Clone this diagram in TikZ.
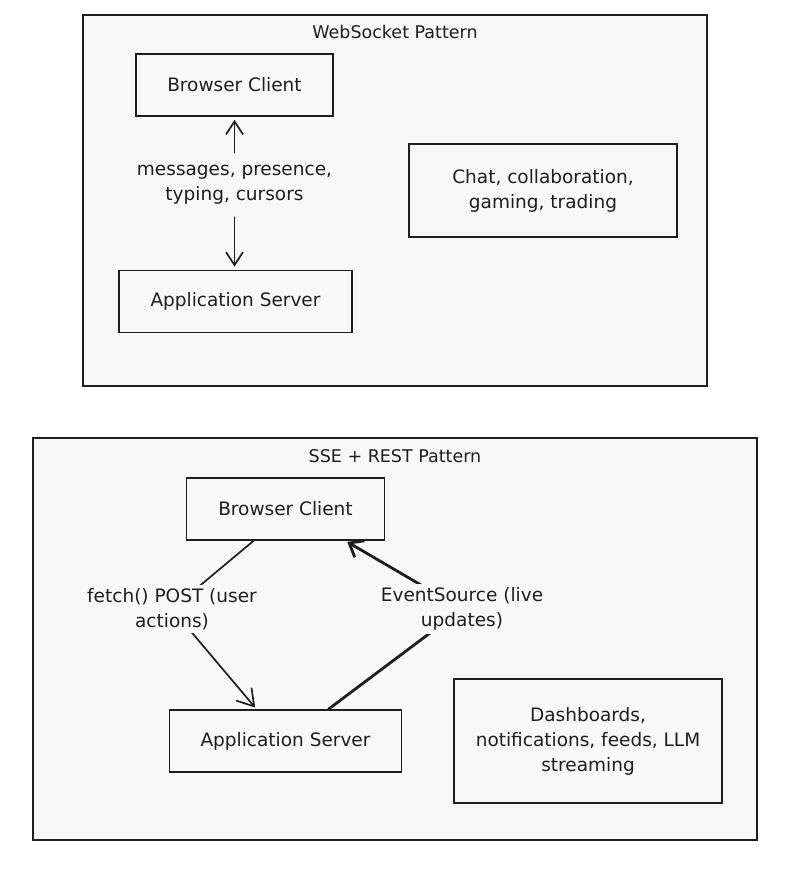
\documentclass[tikz,border=0pt]{standalone}
\usepackage{fontspec}
\setmainfont{DejaVu Sans}
\usetikzlibrary{arrows.meta,calc}
\definecolor{ink}{HTML}{1E1E1E}
\definecolor{framebg}{HTML}{F8F8F8}
\pgfdeclarelayer{bglayer}
\pgfdeclarelayer{midlayer}
\pgfsetlayers{bglayer,midlayer,main}
\begin{document}
\begin{tikzpicture}[x=1pt,y=-1pt,
  frame/.style={draw=ink,line width=1.6pt,fill=framebg,inner sep=0pt},
  titletext/.style={text=ink,font=\fontsize{17.5}{20}\selectfont,inner sep=0pt},
  box/.style={draw=ink,line width=1.7pt,align=center,text=ink,inner sep=0pt,
    font=\fontsize{18.5}{25}\selectfont},
  edgelabel/.style={fill=framebg,align=center,text=ink,inner xsep=2pt,
    font=\fontsize{18.5}{25}\selectfont},
  arr/.style={draw=ink,line width=1.7pt,line cap=round,line join=round,
    -{Straight Barb[length=13pt,width=17pt,line width=1.7pt]}},
]
\useasboundingbox (0,0) rectangle (800,872);

% frames
\begin{pgfonlayer}{bglayer}
\node[frame,minimum width=624pt,minimum height=371pt] (wsframe) at (395,200.5) {};
\node[frame,minimum width=724pt,minimum height=402pt] (sseframe) at (395,639) {};
\end{pgfonlayer}

% top pattern
\node[titletext] (wstitle) at (395,32) {WebSocket Pattern};
\node[box,minimum width=197pt,minimum height=62pt] (bc1) at (234.5,85) {Browser Client};
\node[box,minimum width=233pt,minimum height=62pt] (as1) at (235.5,301.5) {Application Server};
\node[box,minimum width=268pt,minimum height=93pt] (uc1) at (543,190.5) {Chat, collaboration,\\gaming, trading};
\node[edgelabel,minimum height=64pt] (lab1) at (234.5,185) {messages, presence,\\typing, cursors};
\draw[arr,shorten >=3pt] (lab1.north) -- (bc1.south);
\draw[arr,shorten >=3pt] (lab1.south) -- (lab1.south |- as1.north);

% bottom pattern
\node[titletext] (ssetitle) at (395,456) {SSE + REST Pattern};
\node[box,minimum width=198pt,minimum height=62pt] (bc2) at (285.5,509) {Browser Client};
\node[box,minimum width=232pt,minimum height=62pt] (as2) at (285.5,741) {Application Server};
\node[box,minimum width=268pt,minimum height=124pt] (uc2) at (588,741) {Dashboards,\\notifications, feeds, LLM\\streaming};
\node[edgelabel] (lab2) at (172,609) {fetch() POST (user\\actions)};
\node[edgelabel] (lab3) at (462,609) {EventSource (live\\updates)};

\begin{pgfonlayer}{midlayer}
\draw[arr,shorten >=2pt,-{Straight Barb[length=16pt,width=20pt,line width=1.7pt]}] ([xshift=-32pt]bc2.south) -- (lab2.center) -- ([xshift=-29pt]as2.north);
\draw[arr,line width=2.8pt,shorten >=2pt,-{Straight Barb[length=12pt,width=19pt,line width=2.8pt]}]
  ([xshift=43pt]as2.north) -- (lab3.center) -- ([xshift=60pt]bc2.south);
\end{pgfonlayer}
\end{tikzpicture}
\end{document}
